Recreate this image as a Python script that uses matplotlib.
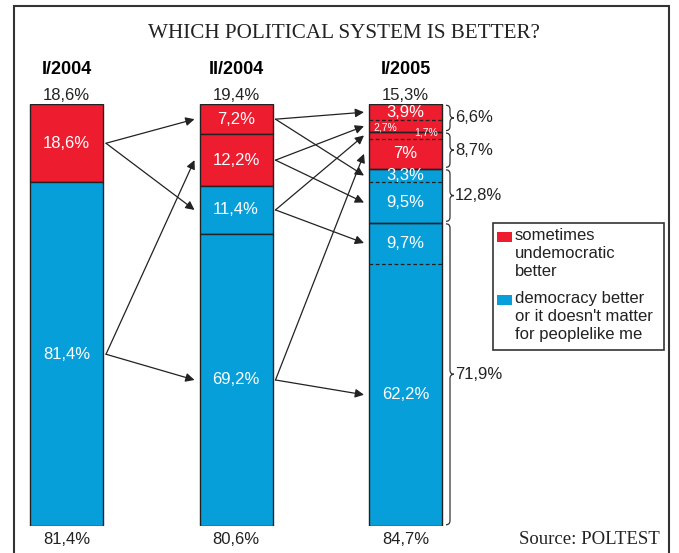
import numpy as np
import matplotlib.pyplot as plt
from matplotlib.patches import Rectangle, PathPatch
from matplotlib.path import Path

plt.rcParams['font.family'] = ['Liberation Sans', 'DejaVu Sans']

# data
periods = ['I/2004', 'II/2004', 'I/2005']
undemocratic = [18.6, 19.4, 15.3]
democracy = [81.4, 80.6, 84.7]

# segments of each bar, from top to bottom ('u' = undemocratic, 'd' = democracy)
seg_values = [
    [18.6, 81.4],
    [7.2, 12.2, 11.4, 69.2],
    [3.9, 2.7, 1.7, 7.0, 3.3, 9.5, 9.7, 62.2],
]
seg_kinds = [
    ['u', 'd'],
    ['u', 'u', 'd', 'd'],
    ['u', 'u', 'u', 'u', 'd', 'd', 'd', 'd'],
]
# I/2005 groups (each made of two segments)
groups_2005 = [6.6, 8.7, 12.8, 71.9]

# flows between segments: (bar, segment) -> (bar, segment)
flows = [
    ((0, 0), (1, 0)), ((0, 0), (1, 2)),
    ((0, 1), (1, 1)), ((0, 1), (1, 3)),
    ((1, 0), (2, 0)), ((1, 0), (2, 4)),
    ((1, 1), (2, 1)), ((1, 1), (2, 5)),
    ((1, 2), (2, 2)), ((1, 2), (2, 6)),
    ((1, 3), (2, 3)), ((1, 3), (2, 7)),
]

RED = '#ED1C2E'
BLUE = '#079FDA'
EDGE = '#222222'
FS = 12


def fmt(v):
    return f'{v:g}'.replace('.', ',') + '%'


def py(y):
    # pixel row -> percent units of the axes
    return (526 - y) / 4.22


fig = plt.figure(figsize=(6.79, 5.53), dpi=100)
ax = fig.add_axes([0, 27 / 553, 1, 422 / 553])
ax.set_xlim(0, 679)
ax.set_ylim(0, 100)
ax.axis('off')

bar_x = [66.5, 236, 405.5]
w = 73

# bars
centers = []
for i, vals in enumerate(seg_values):
    vals = np.array(vals)
    tops = 100 - np.concatenate([[0], np.cumsum(vals)[:-1]])
    bottoms = tops - vals
    cols = [RED if k == 'u' else BLUE for k in seg_kinds[i]]
    edge = EDGE if i < 2 else 'none'
    ax.bar(bar_x[i], vals, w, bottom=bottoms, color=cols, edgecolor=edge, linewidth=1)
    centers.append(bottoms + vals / 2)
    for j, v in enumerate(vals):
        x, y, fs = bar_x[i], bottoms[j] + v / 2, FS
        if i == 2 and j == 1:
            x, y, fs = bar_x[i] - 20, y - 0.3, 7.5
        elif i == 2 and j == 2:
            x, y, fs = bar_x[i] + 21, y + 0.8, 7.5
        ax.text(x, y, fmt(v), color='white', fontsize=fs, ha='center', va='center')

# I/2005 group outlines, dashed inner borders, braces
g = np.array(groups_2005)
g_tops = 100 - np.concatenate([[0], np.cumsum(g)[:-1]])
g_bottoms = g_tops - g
ax.bar(bar_x[2], g, w, bottom=g_bottoms, color='none', edgecolor=EDGE, linewidth=1)
v3 = np.array(seg_values[2])
inner = 100 - np.cumsum(v3)[0::2]
ax.hlines(inner, bar_x[2] - w / 2, bar_x[2] + w / 2, colors=EDGE,
          linestyles=(0, (3, 2)), linewidth=0.9)


def brace(x, y_top, y_bot, bw, r=1.0):
    ym = (y_top + y_bot) / 2
    xm = x + bw / 2
    verts = [(x, y_top), (xm, y_top), (xm, y_top - r),
             (xm, ym + r), (xm, ym), (x + bw, ym),
             (xm, ym), (xm, ym - r),
             (xm, y_bot + r), (xm, y_bot), (x, y_bot)]
    codes = [Path.MOVETO, Path.CURVE3, Path.CURVE3,
             Path.LINETO, Path.CURVE3, Path.CURVE3,
             Path.CURVE3, Path.CURVE3,
             Path.LINETO, Path.CURVE3, Path.CURVE3]
    ax.add_patch(PathPatch(Path(verts, codes), fill=False, edgecolor='#333333',
                           linewidth=0.9, clip_on=False))


bx = bar_x[2] + w / 2 + 4
for top, bot, v in zip(g_tops, g_bottoms, g):
    brace(bx, top - 0.3, bot + 0.3, 8)
    ax.text(bx + 9, (top + bot) / 2, fmt(v), fontsize=FS, color='#222222',
            ha='left', va='center')

# arrows
for (b0, s0), (b1, s1) in flows:
    x0 = bar_x[b0] + w / 2 + 3
    x1 = bar_x[b1] - w / 2 - 5
    ax.annotate('', xy=(x1, centers[b1][s1]), xytext=(x0, centers[b0][s0]),
                arrowprops=dict(arrowstyle='-|>', color=EDGE, lw=0.9,
                                mutation_scale=13, shrinkA=0, shrinkB=0))

# headings and totals
for i, p in enumerate(periods):
    ax.text(bar_x[i], py(70), p, fontsize=13, fontweight='bold', ha='center',
            va='center', clip_on=False)
    ax.text(bar_x[i], py(95), fmt(undemocratic[i]), fontsize=FS, color='#222222',
            ha='center', va='center', clip_on=False)
    ax.text(bar_x[i], py(540), fmt(democracy[i]), fontsize=FS, color='#222222',
            ha='center', va='center', clip_on=False)

ax.text(343.5, py(33), 'WHICH POLITICAL SYSTEM IS BETTER?', family='Liberation Serif',
        fontsize=15.2, ha='center', va='center', color='#222222', clip_on=False)
ax.text(660, py(540), 'Source: POLTEST', family='Liberation Serif', fontsize=13.5,
        ha='right', va='center', color='#222222', clip_on=False)

# legend
ax.add_patch(Rectangle((493, py(350)), 171, py(223) - py(350), fill=False,
                       edgecolor='#333333', linewidth=1.2))
ax.add_patch(Rectangle((497, py(242)), 15, 10 / 4.22, color=RED, linewidth=0))
ax.add_patch(Rectangle((497, py(305)), 15, 10 / 4.22, color=BLUE, linewidth=0))
ax.text(515, py(228), 'sometimes\nundemocratic\nbetter', fontsize=FS, va='top',
        ha='left', linespacing=1.25, color='#222222')
ax.text(515, py(291), "democracy better\nor it doesn't matter\nfor peoplelike me",
        fontsize=FS, va='top', ha='left', linespacing=1.25, color='#222222')

# outer frame
ax.add_patch(Rectangle((14, py(560)), 655, py(6) - py(560), fill=False,
                       edgecolor='#333333', linewidth=1.5, clip_on=False))

fig.savefig('out.png', dpi=100)
